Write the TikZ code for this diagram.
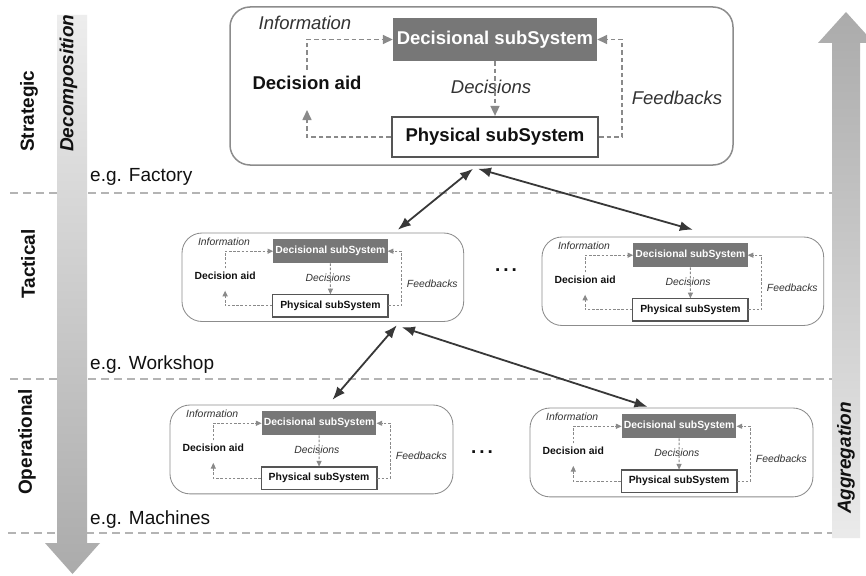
\documentclass[tikz,border=0pt]{standalone}
\usepackage{fontspec}
\setmainfont{Liberation Sans}
\usetikzlibrary{arrows.meta,calc}

\definecolor{decfill}{HTML}{777777}
\definecolor{physline}{HTML}{555555}
\definecolor{outerline}{HTML}{8C8C8C}
\definecolor{connc}{HTML}{8A8A8A}
\definecolor{linkc}{HTML}{383838}
\definecolor{levelc}{HTML}{B4B4B4}
\definecolor{labelc}{HTML}{111111}
\definecolor{softc}{HTML}{333333}

\tikzset{
  lbl/.style={inner sep=0pt,text=labelc,font=\fontsize{18.5}{22}\selectfont},
  lvlname/.style={inner sep=0pt,text=labelc,font=\fontsize{19}{22}\selectfont\bfseries},
  example/.style={inner sep=0pt,anchor=west,text=labelc,font=\fontsize{19}{22}\selectfont},
  levelline/.style={draw=levelc,line width=2pt,dash pattern=on 8pt off 5pt},
  link/.style={draw=linkc,line width=1.8pt,{Latex[length=13pt,width=10pt]}-{Latex[length=13pt,width=10pt]}},
  more/.style={inner sep=0pt,text=labelc,font=\fontsize{19}{22}\selectfont\bfseries}
}

% One decision unit: prefix, origin x, origin y, scale
\newcommand\subsys[4]{%
  \pgfmathsetmacro\sLW{1.6*#4}%
  \pgfmathsetmacro\sBox{1.5*#4}%
  \pgfmathsetmacro\sPhys{2.2*#4}%
  \pgfmathsetmacro\sOn{4.5*#4}%
  \pgfmathsetmacro\sOff{3*#4}%
  \pgfmathsetmacro\sTipL{10*#4}%
  \pgfmathsetmacro\sTipW{9*#4}%
  \begin{scope}[shift={(#2,#3)},scale=#4,transform shape,
    conn/.style={draw=connc,line width=\sLW pt,dash pattern=on \sOn pt off \sOff pt,
      -{Triangle[length=\sTipL pt,width=\sTipW pt]}}]
    \node[draw=outerline,line width=\sBox pt,rounded corners=20pt,
      minimum width=503pt,minimum height=158pt,inner sep=0pt] (#1box) at (251.5,79) {};
    \node[fill=decfill,minimum width=204pt,minimum height=43pt,inner sep=0pt,
      text=white,font=\fontsize{18.5}{22}\selectfont\bfseries] (#1dec) at (265,32.5) {Decisional subSystem};
    \node[draw=physline,fill=white,line width=\sPhys pt,minimum width=206pt,minimum height=40pt,inner sep=0pt,
      text=labelc,font=\fontsize{18.5}{22}\selectfont\bfseries] (#1phys) at (265,130) {Physical subSystem};
    \node[lbl,text=softc,font=\fontsize{18.5}{22}\selectfont\itshape] (#1info) at (75,16) {Information};
    \node[lbl,font=\fontsize{18.5}{22}\selectfont\bfseries] (#1aid) at (77,76) {Decision aid};
    \node[lbl,text=softc,font=\fontsize{18.5}{22}\selectfont\itshape] (#1decs) at (261,80) {Decisions};
    \node[lbl,text=softc,font=\fontsize{18.5}{22}\selectfont\itshape] (#1fb) at (447,91) {Feedbacks};
    \coordinate (#1aidtop) at (77,63);
    \coordinate (#1aidbot) at (77,103);
    \draw[conn] (#1aidtop) |- (#1dec);
    \draw[conn] (#1phys) -| (#1aidbot);
    \draw[conn] (#1phys.east) -- ++(23,0) |- (#1dec.east);
    \draw[conn] (#1dec) -- (#1phys);
  \end{scope}%
}

\begin{document}
\begin{tikzpicture}[x=1pt,y=-1pt]
  \useasboundingbox (0,0) rectangle (866,575);
  \clip (0,0) rectangle (866,575);
  \fill[white] (0,0) rectangle (866,575);

  % level separators
  \draw[levelline] (10,193) -- (833,193);
  \draw[levelline] (10,379) -- (833,379);
  \draw[levelline] (8,533) -- (833,533);

  % decomposition arrow (downwards)
  \shade[top color=black!7,bottom color=black!33]
    (57,15) -- (87,15) -- (87,543) -- (100,543) -- (72.5,574) -- (45,543) -- (57,543) -- cycle;
  % aggregation arrow (upwards)
  \shade[top color=black!33,bottom color=black!8]
    (832,538) -- (860,538) -- (860,43) -- (874,43) -- (846,12) -- (818,43) -- (832,43) -- cycle;

  % level names
  \node[lvlname,rotate=90,anchor=west] (strat) at (29,152) {Strategic};
  \node[lvlname,rotate=90,anchor=west,font=\fontsize{19}{22}\selectfont\bfseries\itshape] (decomp) at (68.5,152) {Decomposition};
  \node[lvlname,rotate=90] (tact) at (28,264) {Tactical};
  \node[lvlname,rotate=90] (oper) at (27,442) {Operational};
  \node[lvlname,rotate=90,font=\fontsize{19}{22}\selectfont\bfseries\itshape] (aggr) at (846,458) {Aggregation};

  \node[example] (egf) at (90,177) {e.g. Factory};
  \node[example] (egw) at (90,365) {e.g. Workshop};
  \node[example] (egm) at (90,520) {e.g. Machines};

  % decision units
  \subsys{S}{230}{7}{1}
  \subsys{TL}{182}{233}{0.56}
  \subsys{TR}{542}{237}{0.56}
  \subsys{OL}{170}{405}{0.5625}
  \subsys{OR}{530}{408}{0.5625}

  \node[more] (dotsT) at (506,270) {.\hspace{3pt}.\hspace{3pt}.};
  \node[more] (dotsO) at (482,452) {.\hspace{3pt}.\hspace{3pt}.};

  % links between levels
  \draw[link] ([shift={(-8.5,3)}]Sbox.south) -- ([shift={(75,-3)}]TLbox.north);
  \draw[link] ([shift={(-3.5,3)}]Sbox.south) -- ([shift={(10,-7)}]TRbox.north);
  \draw[link] ([shift={(74,3.5)}]TLbox.south) -- ([shift={(21,-5)}]OLbox.north);
  \draw[link] ([shift={(79,5.5)}]TLbox.south) -- ([shift={(-24,-1)}]ORbox.north);
\end{tikzpicture}
\end{document}
